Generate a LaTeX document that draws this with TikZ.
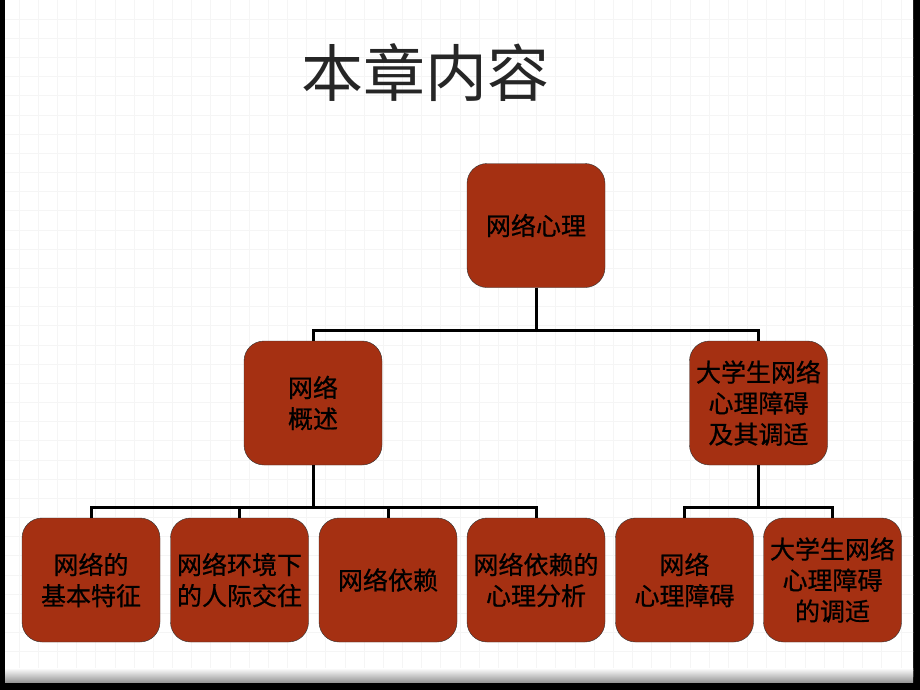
\documentclass[tikz,border=0pt]{standalone}
\usepackage{fontspec}
\usepackage{tikz}
\newfontfamily\cjk{Noto Sans CJK SC}
\newfontfamily\cjkbold{Noto Sans CJK SC}[FakeBold=0.8]
\definecolor{rust}{RGB}{165,48,18}
\definecolor{gridgray}{RGB}{245,245,245}

\begin{document}
\begin{tikzpicture}[
  x=1pt,y=-1pt,
  topic/.style={draw=black!80,thin,rounded corners=20pt,fill=rust,
    minimum width=138pt,minimum height=124pt,inner sep=0pt,align=center,
    font=\cjkbold\fontsize{25}{31}\selectfont},
  link/.style={line width=3pt,black},
  gridline/.style={gridgray,line width=1pt}]
  \useasboundingbox (0,0) rectangle (920,690);
% slide page with its grid
  \fill[black] (0,0) rectangle (920,690);
  \fill[white,rounded corners=5pt] (5,-10) rectangle (913,682);
  \begin{scope}
    \clip (5,0) rectangle (913,676);
    \foreach \i in {1,...,47} \draw[gridline] (\i*19.17,0) -- (\i*19.17,690);
    \foreach \j in {1,...,35} \draw[gridline] (0,\j*19.17) -- (920,\j*19.17);
  \end{scope}
  \shade[top color=white,bottom color=black!40] (5,668) rectangle (913,682);

  \node[font=\cjk\fontsize{62}{62}\selectfont,text=black!85] (title) at (425,73) {本章内容};

% Tree nodes
  \node[topic] (psych)    at (536,225.5) {网络心理};
  \node[topic] (overview) at (313,403)   {网络\\概述};
  \node[topic] (disorder) at (758.5,403) {大学生网络\\心理障碍\\及其调适};

  \node[topic] (basics)  at (91,580)    {网络的\\基本特征};
  \node[topic] (social)  at (239.5,580) {网络环境下\\的人际交往};
  \node[topic] (depend)  at (388,580)   {网络依赖};
  \node[topic] (deppsy)  at (536,580)   {网络依赖的\\心理分析};
  \node[topic] (barrier) at (684.5,580) {网络\\心理障碍};
  \node[topic] (adjust)  at (832.5,580) {大学生网络\\心理障碍\\的调适};

  \coordinate (busTop)   at (536,330);
  \coordinate (busLeft)  at (313,507);
  \coordinate (busRight) at (758.5,507);

% Connectors
  \draw[link] (psych)    --  (busTop);
  \draw[link] (busTop)   -|  (overview);
  \draw[link] (busTop)   -|  (disorder);
  \draw[link] (overview) --  (busLeft);
  \draw[link] (busLeft)  -|  (basics);
  \draw[link] (busLeft)  -|  (social);
  \draw[link] (busLeft)  -|  (depend);
  \draw[link] (busLeft)  -|  (deppsy);
  \draw[link] (disorder) --  (busRight);
  \draw[link] (busRight) -|  (barrier);
  \draw[link] (busRight) -|  (adjust);
\end{tikzpicture}
\end{document}
